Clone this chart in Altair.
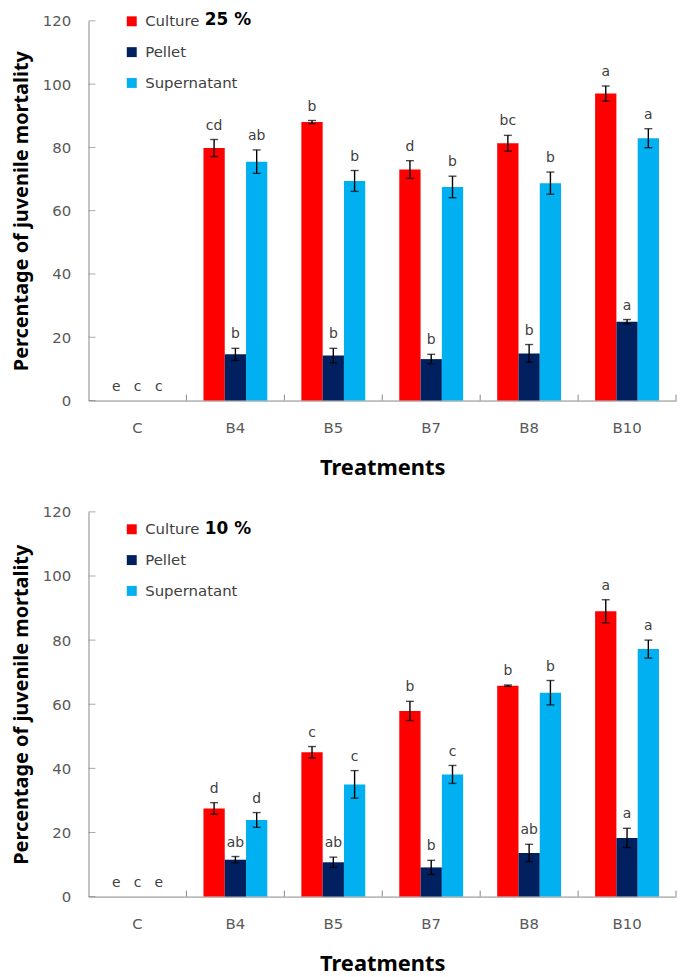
import altair as alt
import pandas as pd

treatments = ["C", "B4", "B5", "B7", "B8", "B10"]
fractions = ["Culture", "Pellet", "Supernatant"]
colors = ["#FF0000", "#002060", "#00B0F0"]

# 25 % panel
culture_25 = [0, 79.8, 88.0, 73.0, 81.3, 97.0]
culture_25_err = [0, 2.7, 0.5, 2.8, 2.5, 2.4]
pellet_25 = [0, 14.6, 14.2, 13.1, 14.9, 24.9]
pellet_25_err = [0, 1.9, 2.3, 1.5, 2.8, 0.7]
super_25 = [0, 75.5, 69.4, 67.5, 68.7, 82.9]
super_25_err = [0, 3.7, 3.3, 3.4, 3.5, 3.0]
letters_25_culture = ["e", "cd", "b", "d", "bc", "a"]
letters_25_pellet = ["c", "b", "b", "b", "b", "a"]
letters_25_super = ["c", "ab", "b", "b", "b", "a"]

# 10 % panel
culture_10 = [0, 27.5, 45.0, 57.9, 65.8, 89.0]
culture_10_err = [0, 1.8, 1.8, 3.0, 0.2, 3.6]
pellet_10 = [0, 11.5, 10.7, 9.1, 13.6, 18.3]
pellet_10_err = [0, 1.0, 1.6, 2.2, 2.7, 3.0]
super_10 = [0, 23.9, 35.0, 38.1, 63.6, 77.2]
super_10_err = [0, 2.3, 4.3, 2.8, 3.8, 2.8]
letters_10_culture = ["e", "d", "c", "b", "b", "a"]
letters_10_pellet = ["c", "ab", "ab", "b", "ab", "a"]
letters_10_super = ["e", "d", "c", "c", "b", "a"]

y_ticks = [0, 20, 40, 60, 80, 100, 120]
y_title = "Percentage of juvenile mortality"
x_title = "Treatments"

AXIS_GRAY = "#868686"
LABEL_GRAY = "#595959"
TEXT_GRAY = "#404040"


def make_df(series, errs, letters):
    rows = []
    for f, vals, es, ls in zip(fractions, series, errs, letters):
        for t, v, e, l in zip(treatments, vals, es, ls):
            rows.append({"Treatment": t, "Fraction": f, "value": v, "err": e,
                         "lo": v - e, "hi": v + e, "letter": l})
    return pd.DataFrame(rows)


def panel(df, pct_label, height, legend_y, pct_y):
    x_enc = alt.X("Treatment:N", sort=treatments, title=x_title,
                  scale=alt.Scale(paddingInner=0, paddingOuter=0),
                  axis=alt.Axis(labelAngle=0, ticks=False, domainColor=AXIS_GRAY,
                                labelFont="DejaVu Sans", labelFontSize=15,
                                labelColor=LABEL_GRAY, labelPadding=20,
                                titleFont="Noto Sans", titleFontSize=22,
                                titleFontWeight="bold", titleColor="#000000",
                                titlePadding=22))
    xo_enc = alt.XOffset("Fraction:N", sort=fractions,
                         scale=alt.Scale(paddingInner=0, paddingOuter=0.8))

    def y_enc(field):
        return alt.Y(field, title=y_title,
                     scale=alt.Scale(domain=[0, 120], nice=False),
                     axis=alt.Axis(values=y_ticks, grid=False, ticks=False,
                                   domainColor=AXIS_GRAY, labelFont="DejaVu Sans",
                                   labelFontSize=15, labelColor=LABEL_GRAY,
                                   labelPadding=18, titleFont="Noto Sans",
                                   titleFontSize=20, titleFontWeight="bold",
                                   titleColor="#000000", titlePadding=11))

    base = alt.Chart(df).encode(x=x_enc, xOffset=xo_enc)
    bars = base.mark_bar().encode(
        y=y_enc("value:Q"),
        color=alt.Color("Fraction:N", sort=fractions,
                        scale=alt.Scale(domain=fractions, range=colors),
                        legend=alt.Legend(title=None, orient="none", legendX=36,
                                          legendY=legend_y, symbolType="square",
                                          symbolSize=100, symbolStrokeWidth=0,
                                          labelFont="DejaVu Sans", labelFontSize=15,
                                          labelColor=TEXT_GRAY, rowPadding=15,
                                          padding=0, labelOffset=6)),
    )
    eb = base.transform_filter(alt.datum.err > 0)
    rules = eb.mark_rule(color="#000000", strokeWidth=1.4).encode(
        y=y_enc("lo:Q"), y2="hi:Q")
    cap_lo = eb.mark_tick(orient="horizontal", size=8, thickness=1.4,
                          color="#000000").encode(y=y_enc("lo:Q"))
    cap_hi = eb.mark_tick(orient="horizontal", size=8, thickness=1.4,
                          color="#000000").encode(y=y_enc("hi:Q"))
    texts = base.mark_text(dy=-10, baseline="alphabetic", font="DejaVu Sans",
                           fontSize=14, color=TEXT_GRAY).encode(
        y=y_enc("hi:Q"), text="letter:N")

    ytick_df = pd.DataFrame({"v": y_ticks})
    yticks = alt.Chart(ytick_df).mark_tick(orient="horizontal", size=7,
                                           thickness=1, color=AXIS_GRAY).encode(
        y=y_enc("v:Q"), x=alt.value(3.5))
    xtick_df = pd.DataFrame({"Treatment": treatments})
    xticks = alt.Chart(xtick_df).mark_rule(color=AXIS_GRAY, strokeWidth=1).encode(
        x=alt.X("Treatment:N", sort=treatments, bandPosition=1, title=x_title,
                scale=alt.Scale(paddingInner=0, paddingOuter=0)),
        y=alt.value(height), y2=alt.value(height - 6))

    pct = alt.Chart(pd.DataFrame({"t": [pct_label]})).mark_text(
        align="left", baseline="middle", font="DejaVu Sans", fontSize=17,
        fontWeight="bold", color="#000000").encode(
        x=alt.value(117), y=alt.value(pct_y), text="t:N")

    return alt.layer(bars, rules, cap_lo, cap_hi, texts, yticks, xticks, pct).properties(
        width=591, height=height)


df25 = make_df([culture_25, pellet_25, super_25],
               [culture_25_err, pellet_25_err, super_25_err],
               [letters_25_culture, letters_25_pellet, letters_25_super])
df10 = make_df([culture_10, pellet_10, super_10],
               [culture_10_err, pellet_10_err, super_10_err],
               [letters_10_culture, letters_10_pellet, letters_10_super])

top = panel(df25, "25 %", 382, -7, -1)
bottom = panel(df10, "10 %", 387, 10, 17)

chart = alt.vconcat(top, bottom, spacing=27).resolve_scale(
    color="independent", x="independent", y="independent").properties(
    padding={"left": 3, "top": 0, "right": 0, "bottom": 0}
).configure_view(stroke=None)

chart.save("out.html", embed_options={"renderer": "svg", "actions": False})
